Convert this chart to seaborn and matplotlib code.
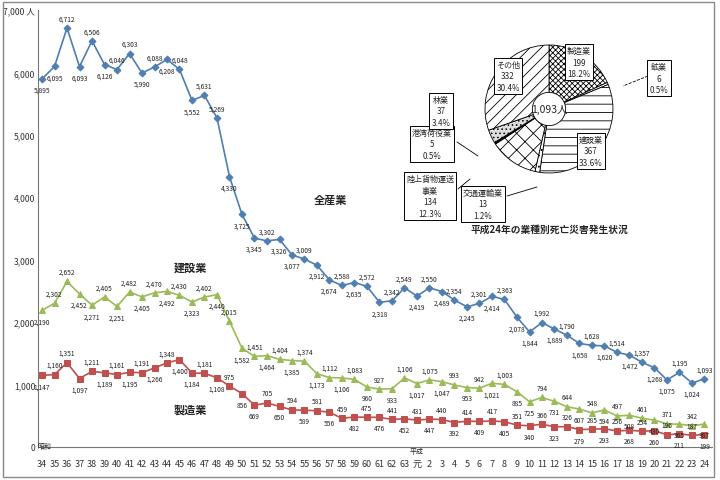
import numpy as np
import pandas as pd
import seaborn as sns
import matplotlib.pyplot as plt
from matplotlib.patches import Rectangle, Circle
from matplotlib.lines import Line2D

sns.set_style("white")
plt.rcParams['font.family'] = ['Noto Sans CJK JP', 'DejaVu Sans']
plt.rcParams['hatch.linewidth'] = 0.6

# 昭和34年〜平成24年
years = [str(y) for y in range(34, 64)] + ["元"] + [str(y) for y in range(2, 25)]

all_ind = [5895, 6095, 6712, 6093, 6506, 6126, 6046, 6303, 5990, 6088,
           6208, 6048, 5552, 5631, 5269, 4330, 3725, 3345, 3302, 3326,
           3077, 3009, 2912, 2674, 2588, 2635, 2572, 2318, 2342, 2549,
           2419, 2550, 2489, 2354, 2245, 2301, 2414, 2363, 2078, 1844,
           1992, 1889, 1790, 1658, 1628, 1620, 1514, 1472, 1357, 1268,
           1075, 1195, 1024, 1093]
construction = [2190, 2302, 2652, 2452, 2271, 2405, 2251, 2482, 2405, 2470,
                2492, 2430, 2323, 2402, 2440, 2015, 1582, 1451, 1464, 1404,
                1385, 1374, 1173, 1112, 1106, 1083, 960, 927, 933, 1106,
                1017, 1075, 1047, 993, 953, 942, 1021, 1003, 885, 725,
                794, 731, 644, 607, 548, 594, 497, 508, 461, 430,
                371, 365, 342, 367]
manufacturing = [1147, 1160, 1351, 1097, 1211, 1189, 1161, 1195, 1191, 1266,
                 1348, 1400, 1184, 1181, 1108, 975, 856, 669, 705, 650,
                 594, 589, 581, 556, 459, 482, 475, 476, 441, 452,
                 431, 447, 440, 392, 414, 409, 417, 405, 351, 340,
                 366, 323, 326, 279, 285, 293, 256, 268, 254, 260,
                 196, 211, 187, 199]

pie_labels = ["製造業", "鉱業", "建設業", "交通運輸業", "陸上貨物運送\n事業",
              "港湾荷役業", "林業", "その他"]
pie_values = [199, 6, 367, 13, 134, 5, 37, 332]
pie_pcts = ["18.2%", "0.5%", "33.6%", "1.2%", "12.3%", "0.5%", "3.4%", "30.4%"]

series = {"全産業": all_ind, "建設業": construction, "製造業": manufacturing}
df = pd.concat([pd.DataFrame({"idx": range(len(years)), "deaths": v, "industry": k})
                for k, v in series.items()], ignore_index=True)

colors = {"全産業": "#4f7fb0", "建設業": "#9bbb59", "製造業": "#c0504d"}
marks = {"全産業": "D", "建設業": "^", "製造業": "s"}
msize = {"全産業": 3.5, "建設業": 4.5, "製造業": 5}

fig = plt.figure(figsize=(7.2, 4.81), dpi=100)
W, H = 720, 481
ax = fig.add_axes([38 / W, 33 / H, 674 / W, 437 / H])

for name in series:
    sns.lineplot(data=df[df.industry == name], x="idx", y="deaths", ax=ax,
                 color=colors[name], marker=marks[name], markersize=msize[name],
                 markeredgecolor=colors[name], linewidth=1.2, legend=False)

# data labels above/below, alternating on flat stretches
for name, vals in series.items():
    prev_up = None
    for i, v in enumerate(vals):
        nb = [vals[j] for j in (i - 1, i + 1) if 0 <= j < len(vals)]
        up = v >= np.mean(nb)
        if prev_up is not None and up == prev_up and abs(v - vals[i - 1]) < 150:
            up = not up
        prev_up = up
        ax.annotate(f"{v:,}", (i, v), xytext=(0, 4 if up else -5), textcoords="offset points",
                    ha="center", va="bottom" if up else "top", fontsize=4.8, color="#222222")

ax.set_xlim(-0.32, 53.6)
ax.set_ylim(0, 7000)
ax.set_xlabel("")
ax.set_ylabel("")
ax.set_xticks(range(len(years)))
ax.set_xticklabels(years, fontsize=6.5, color="#333333")
ax.set_xticks(np.arange(0.5, len(years) - 0.5), minor=True)
ax.tick_params(axis="x", which="major", length=0, pad=9)
ax.tick_params(axis="x", which="minor", length=3, direction="in", color="#777777")
ax.set_yticks(range(0, 8000, 1000))
ax.set_yticklabels([f"{t:,}" for t in range(0, 7000, 1000)] + ["7,000 人"],
                   fontsize=6.2, color="#333333")
ax.tick_params(axis="y", length=3, direction="in", color="#777777", pad=2)
for s in ["top", "right"]:
    ax.spines[s].set_visible(False)
for s in ["left", "bottom"]:
    ax.spines[s].set_color("#777777")
    ax.spines[s].set_linewidth(0.8)

fig.text(44 / W, 1 - 447 / H, "昭和", fontsize=5, ha="center", va="center")
fig.text(417 / W, 1 - 452 / H, "平成", fontsize=5, ha="center", va="center")

fig.text(330 / W, 1 - 200 / H, "全産業", fontsize=8, fontweight="bold", ha="center", va="center")
fig.text(190 / W, 1 - 268 / H, "建設業", fontsize=8, fontweight="bold", ha="center", va="center")
fig.text(190 / W, 1 - 410 / H, "製造業", fontsize=8, fontweight="bold", ha="center", va="center")

# pie inset
pax = fig.add_axes([469 / W, (H - 190) / H, 160 / W, 160 / H])
hatches = ["xxxxxx", "", "--", "...", "xx", "", "....", "///"]
faces = ["white", "white", "white", "white", "white", "black", "#dddddd", "white"]
wedges, _ = pax.pie(pie_values, startangle=90, counterclock=False,
                    wedgeprops=dict(edgecolor="black", linewidth=0.6))
for w, h, f in zip(wedges, hatches, faces):
    w.set_hatch(h)
    w.set_facecolor(f)
pax.add_patch(Circle((0, 0), 0.26, facecolor="white", edgecolor="black", lw=0.6, zorder=5))
pax.text(0, 0, "1,093人", ha="center", va="center", fontsize=7.5, zorder=6)
pax.set_aspect("equal")

box = dict(boxstyle="square,pad=0.3", fc="white", ec="black", lw=0.7)
box_pos = [(579, 63), (659, 79), (591, 152), (483, 205), (430, 197),
           (432, 145), (441, 112), (508, 77)]
for (px, py), lab, v, p in zip(box_pos, pie_labels, pie_values, pie_pcts):
    fig.text(px / W, 1 - py / H, f"{lab}\n{v}\n{p}", ha="center", va="center",
             fontsize=5.8, linespacing=1.35, bbox=box, zorder=10)

for (x0, y0, x1, y1, ls) in [(648, 77, 623, 87, "--"), (457, 143, 478, 157, "-"),
                             (507, 197, 537, 188, "-"), (458, 190, 470, 180, "-")]:
    fig.add_artist(Line2D([x0 / W, x1 / W], [1 - y0 / H, 1 - y1 / H], color="black",
                          lw=0.6, ls=ls))

fig.text(549 / W, 1 - 230 / H, "平成24年の業種別死亡災害発生状況", ha="center", va="center",
         fontsize=7, fontweight="bold")

fig.add_artist(Rectangle((3 / W, 3 / H), 711 / W, 475 / H, transform=fig.transFigure,
                         fill=False, edgecolor="#888888", lw=1))

fig.savefig("out.png", dpi=100)
